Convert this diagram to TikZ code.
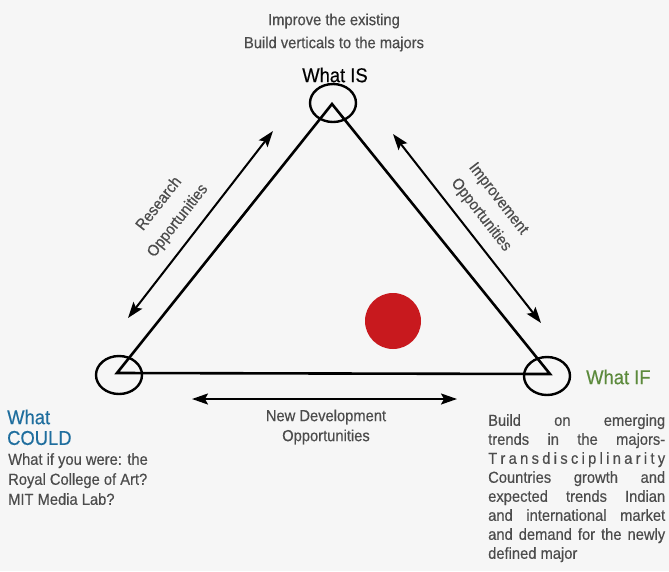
\documentclass[tikz,border=0pt]{standalone}
\usepackage{fontspec}
\setmainfont{Liberation Sans}[FakeStretch=0.92,FakeBold=0.4]
\usetikzlibrary{arrows.meta,shapes.geometric}
\definecolor{txtgray}{HTML}{4C4C4C}
\definecolor{couldblue}{HTML}{1F6E9E}
\definecolor{ifgreen}{HTML}{5C8A3C}
\definecolor{dotred}{HTML}{C8191E}
\definecolor{bg}{HTML}{F6F6F6}
\tikzset{
  tri/.style={line width=2.6pt, line join=miter},
  vcirc/.style={ellipse, draw, line width=2.4pt, minimum width=46pt, minimum height=38pt, inner sep=0pt},
  dbl/.style={line width=2pt, {Stealth[length=16pt,width=11pt,inset=3pt]}-{Stealth[length=16pt,width=11pt,inset=3pt]}},
  small/.style={font=\fontsize{16}{20}\selectfont, text=txtgray, align=center, inner sep=0pt},
  big/.style={font=\fontsize{20}{22}\selectfont, inner sep=0pt},
}
\begin{document}
\begin{tikzpicture}[x=1pt,y=-1pt]
\useasboundingbox[fill=bg] (0,0) rectangle (669,571);
% vertices
\coordinate (T) at (332,104);
\coordinate (L) at (117,373);
\coordinate (R) at (550,374);
\node[vcirc] (cT) at (333,103) {};
\node[vcirc] (cL) at (119,375) {};
\node[vcirc] (cR) at (547,376) {};
\draw[tri] (L) -- (T) -- (R) -- cycle;
% double arrows
\coordinate (a1) at (128,318); \coordinate (a2) at (273,131);
\coordinate (b1) at (393,134); \coordinate (b2) at (541,323);
\coordinate (c1) at (192,399); \coordinate (c2) at (457,399);
\draw[dbl] (a1) -- (a2);
\draw[dbl] (b1) -- (b2);
\draw[dbl] (c1) -- (c2);
% red dot
\node[circle, fill=dotred, minimum size=56pt, inner sep=0pt] (dot) at (393,321) {};
% texts
\node[small] (imp1) at (334,21) {Improve the existing};
\node[small] (imp2) at (334,44) {Build verticals to the majors};
\node[big] (wis) at (335,75) {What IS};
\node[big, text=ifgreen, anchor=west] (wif) at (586,377) {What IF};
\node[big, text=couldblue, anchor=west] (wc1) at (7,417) {What};
\node[big, text=couldblue, anchor=west] (wc2) at (7,438) {COULD};
\node[small, align=left, anchor=north west] (wcq) at (8,453) {What if you were: the\\Royal College of Art?\\MIT Media Lab?};
\node[small, rotate=52] (res1) at (158,203) {Research};
\node[small, rotate=52] (res2) at (178,221) {Opportunities};
\node[small, rotate=-52] (impo1) at (498,199) {Improvement};
\node[small, rotate=-52] (impo2) at (481,215) {Opportunities};
\node[small] (newd1) at (326,417) {New Development};
\node[small] (newd2) at (326,437) {Opportunities};
\node[small, align=left, anchor=north west, font=\fontsize{16}{19}\selectfont] (wifp) at (488,414) {%
\makebox[177pt][s]{Build on emerging}\\
\makebox[177pt][s]{trends in the majors-}\\
\makebox[177pt][s]{T r a n s d i s c i p l i n a r i t y}\\
\makebox[177pt][s]{Countries growth and}\\
\makebox[177pt][s]{expected trends Indian}\\
\makebox[177pt][s]{and international market}\\
\makebox[177pt][s]{and demand for the newly}\\
defined major};
\end{tikzpicture}
\end{document}
